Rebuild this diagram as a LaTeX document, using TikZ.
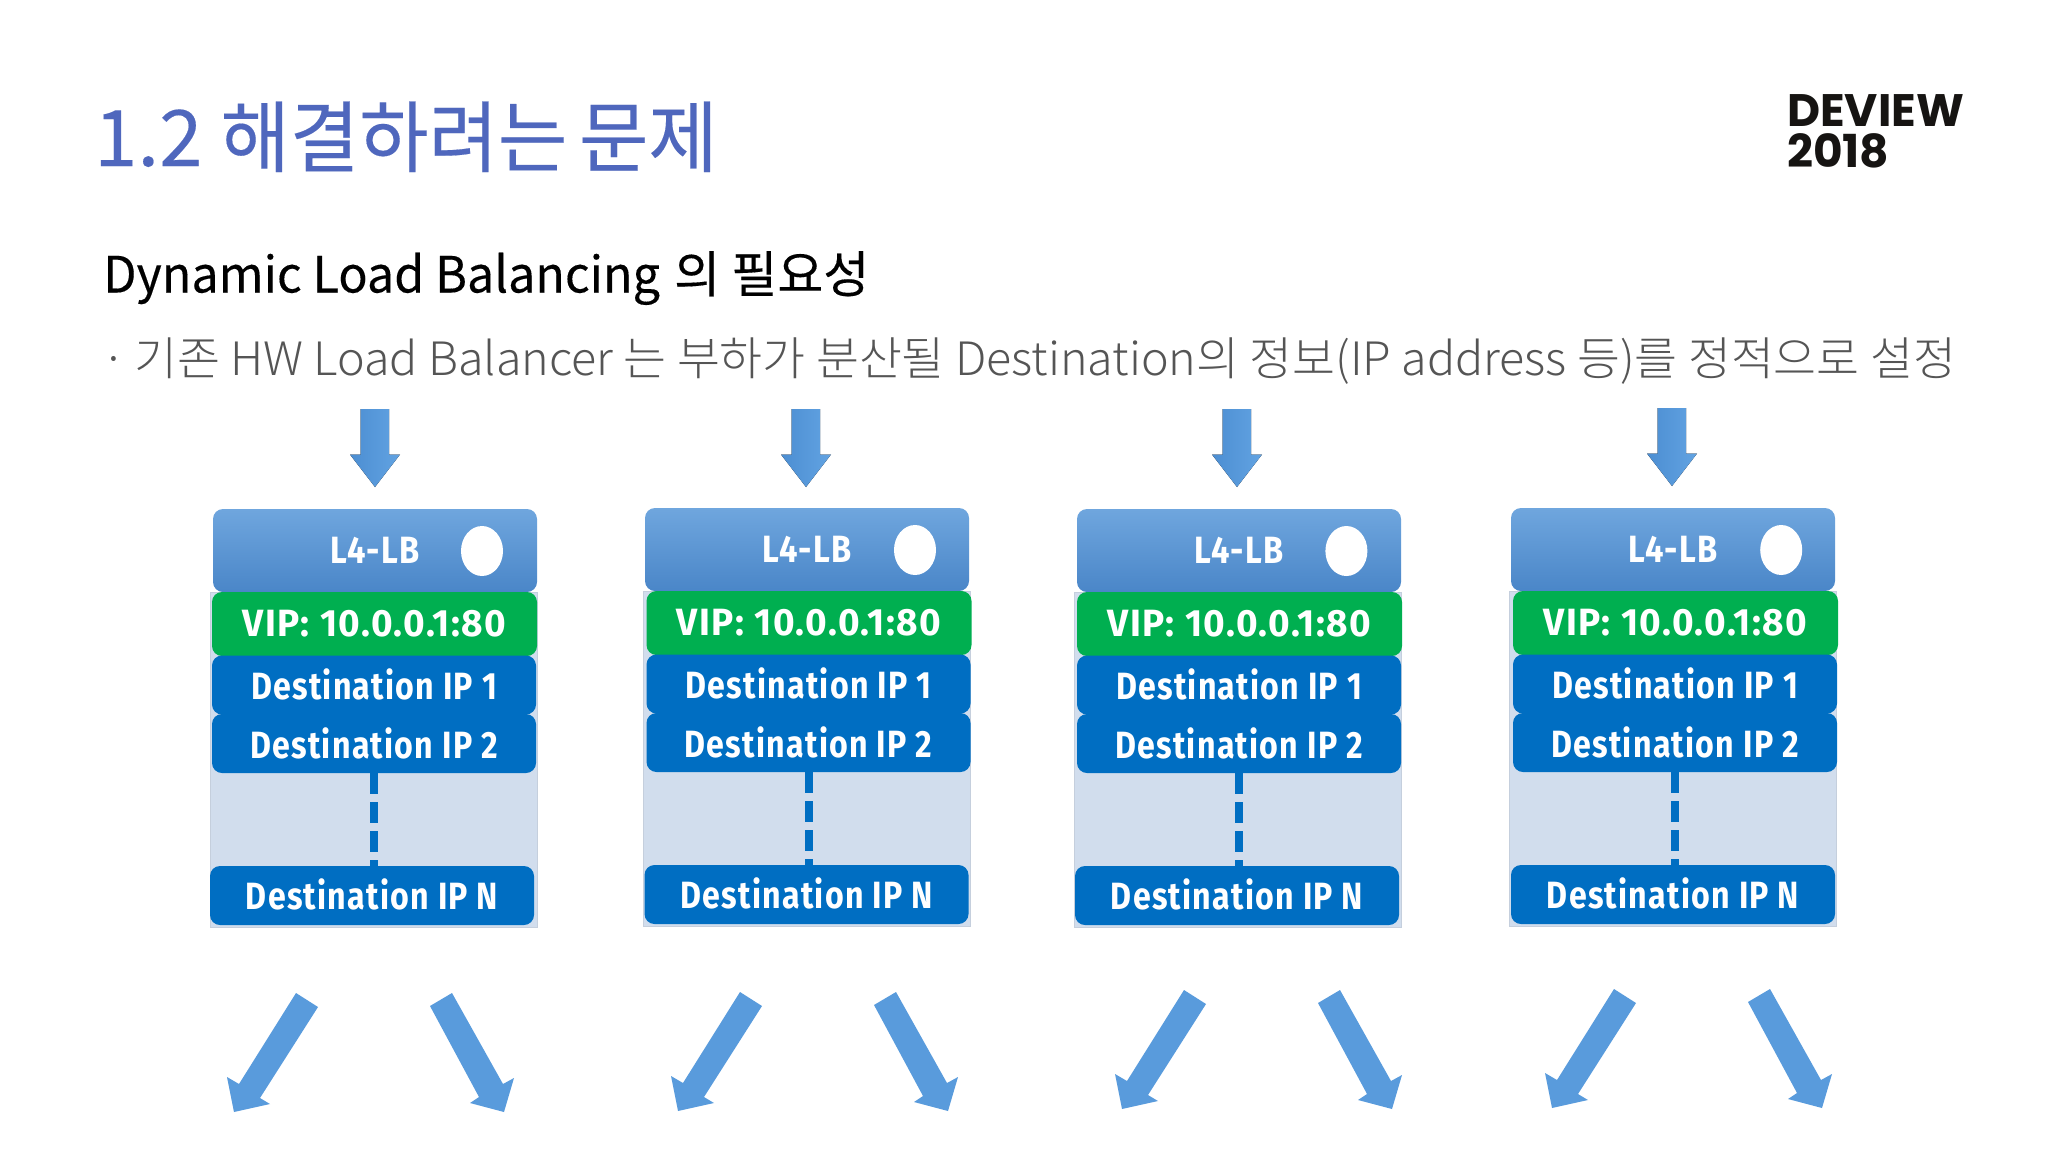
\documentclass[tikz,border=0pt]{standalone}
\usepackage{graphicx}
\usepackage{fontspec}
\newfontfamily\krtitle[FakeBold=0.2]{Noto Sans CJK KR}
\newfontfamily\krsub[FakeBold=0.25]{Noto Sans CJK KR}
\newfontfamily\krlight{Noto Sans CJK KR Light}
\newfontfamily\boxfont[LetterSpace=4]{Fira Sans Bold}
\newfontfamily\logofont{Poppins Bold}
\definecolor{titleblue}{HTML}{4F67BD}
\definecolor{greytext}{HTML}{555555}
\definecolor{panel}{HTML}{D1DDED}
\definecolor{vipgreen}{HTML}{00AF50}
\definecolor{destblue}{HTML}{006EC2}
\definecolor{lbtop}{HTML}{6FA6DE}
\definecolor{lbbot}{HTML}{4A86C8}
\definecolor{arrowa}{HTML}{4C8ED2}
\definecolor{arrowb}{HTML}{62A3E2}
\definecolor{logoblack}{HTML}{161412}
\newcommand{\rowtext}[3]{\raisebox{#1}{\scalebox{#2}[1]{#3}}}
\tikzset{
  x=1pt,y=-1pt,
  boxrow/.style={rounded corners=10pt,inner sep=0pt,outer sep=0pt,text=white,font=\boxfont\fontsize{38}{40}\selectfont},
  lbbox/.style={boxrow,minimum width=324pt,minimum height=83pt,top color=lbtop,bottom color=lbbot},
  vipbox/.style={boxrow,fill=vipgreen,minimum width=325pt,minimum height=64pt},
  destbox/.style={boxrow,fill=destblue,minimum width=324pt,minimum height=59pt},
  panelbox/.style={fill=panel,draw=panel!85!gray,line width=.8pt},
  flowarrow/.style={left color=arrowa,right color=arrowb,draw=none},
}
\begin{document}
\begin{tikzpicture}
\useasboundingbox (0,0) rectangle (2048,1152);
\fill[white] (0,0) rectangle (2048,1152);
\node[anchor=base west,inner sep=0pt,text=titleblue,font=\krtitle\fontsize{78}{80}\selectfont] (title) at (94,166) {1.2\hspace{18pt}\scalebox{.967}[1]{해결하려는\hspace{12pt}문제}};
\node[anchor=base west,inner sep=0pt,text=black,font=\krsub\fontsize{50}{52}\selectfont] (sub) at (103,292.5) {\scalebox{.97}[1]{Dynamic Load Balancing}\hspace{3pt} 의 필요성};
\node[anchor=base west,inner sep=0pt,text=greytext,font=\krlight\fontsize{46}{48}\selectfont] (desc) at (101,375) {\scalebox{1.014}[1]{·\hspace{-2.6pt} 기존 HW Load Balancer 는 부하가 분산될 Destination의 정보(IP address 등)를 정적으로 설정}};
\node[anchor=base west,inner sep=0pt,align=left,text=logoblack,font=\logofont\fontsize{45.5}{40.5}\selectfont] (logo) at (1787,167) {DEVIEW\\2018};
\foreach \i/\ax/\ay/\bx/\by/\rx/\cx/\cy in {1/0/0/0/0/0/0/0,2/431/0/432/-1/2.5/444/-1,3/862/0/864/0/1/888/-3,4/1297/-1/1298/-1/3/1318/-4}{
  % incoming arrow
  \fill[flowarrow,shift={(\ax,\ay)}] (360.5,409) -- (389,409) -- (389,454.5) -- (400,454.5) -- (375,487) -- (350,454.5) -- (360.5,454.5) -- cycle;
  % panel
  \draw[panelbox,shift={(\bx+0.6*\rx,\by)}] (210,592) rectangle (537,927);
  \node[lbbox] (lb\i) at (375+\bx,550.5+\by) {\rowtext{-1pt}{.86}{L4-LB}};
  \fill[white] (482+\bx+0.4*\rx,551+\by) ellipse [x radius=21,y radius=25];
  \node[vipbox] (vip\i) at (374.5+\bx+\rx,624+\by) {\rowtext{0pt}{.974}{VIP: 10.0.0.1:80}};
  \node[destbox] (da\i) at (374+\bx+\rx,685+\by) {\rowtext{1pt}{.845}{Destination IP 1}};
  \node[destbox] (db\i) at (374+\bx+\rx,743.5+\by) {\rowtext{1pt}{.845}{Destination IP 2}};
  \node[destbox] (dn\i) at (372+\bx+\rx,895.5+\by) {\rowtext{2.5pt}{.845}{Destination IP N}};
  \draw[destblue,line width=8pt,dash pattern=on 21pt off 8pt] (db\i.south) -- (db\i.south |- dn\i.north);
  % outgoing arrows
  \fill[arrowb!60!arrowa,shift={(\cx,\cy)}] (296,993) -- (318,1007) -- (260,1098) -- (270,1104) -- (234,1112) -- (227,1077) -- (239,1084) -- cycle;
  \fill[arrowb!60!arrowa,shift={(\cx,\cy)}] (452,993) -- (430,1006) -- (479,1097) -- (470,1103) -- (504,1112) -- (514,1078) -- (503,1084) -- cycle;
}
\end{tikzpicture}
\end{document}
